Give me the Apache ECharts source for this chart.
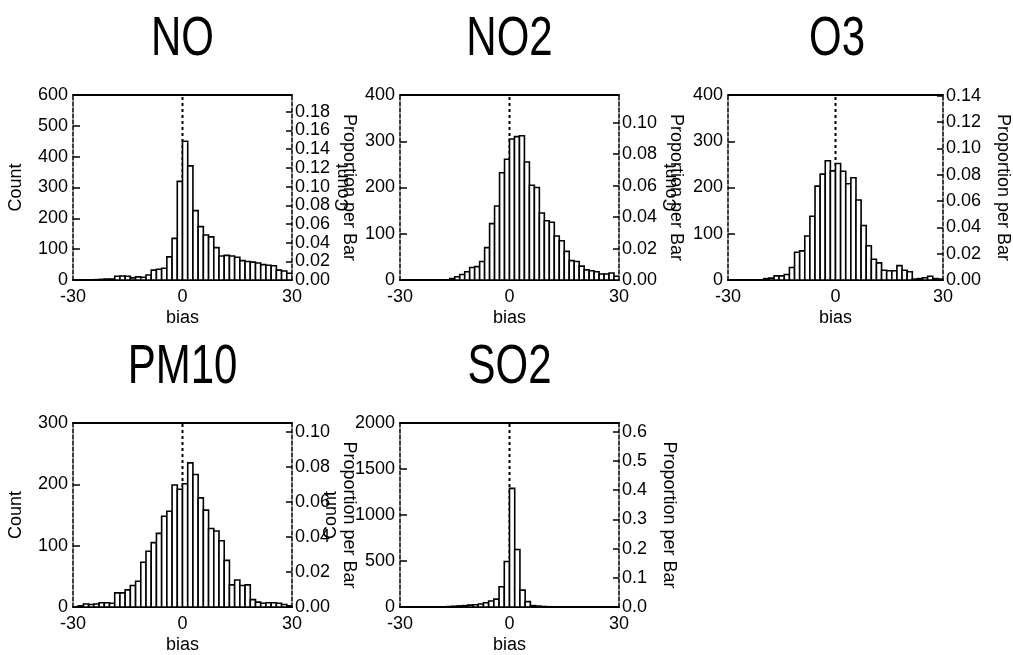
<!DOCTYPE html>
<html>
<head>
<meta charset="utf-8">
<script src="https://cdn.jsdelivr.net/npm/echarts@6/dist/echarts.min.js"></script>
<style>
html,body{margin:0;padding:0;background:#fff;}
#chart{width:1013px;height:655px;}
</style>
</head>
<body>
<div id="chart"></div>
<script>
// ---- data ----
const titles = ['NO', 'NO2', 'O3', 'PM10', 'SO2'];
const xMin = -30, xMax = 30;
const xTickStep = 30;
const countMax = [600, 400, 400, 300, 2000];
const countStep = [100, 100, 100, 100, 500];
const propMax = [0.198, 0.1176, 0.1405, 0.1049, 0.6295];
const propStep = [0.02, 0.02, 0.02, 0.02, 0.1];
const propDecimals = [2, 2, 2, 2, 1];
const binCount = [42, 44, 42, 42, 42];

const countsNO = [0,0,0,0,1,2,3,3,12,13,12,7,10,9,16,32,35,38,75,135,320,
                  450,370,225,173,146,140,105,78,80,78,74,63,60,58,55,50,48,46,32,29,22];
const countsNO2 = [0,0,0,0,0,0,0,0,0,0,3,7,12,18,27,29,40,70,122,160,232,261,
                   305,310,312,255,205,200,145,128,125,95,85,62,42,40,30,22,20,18,13,13,15,8];
const countsO3 = [0,0,0,0,0,0,0,3,4,9,9,12,27,60,63,95,138,203,229,258,236,
                  252,235,208,221,173,118,74,45,37,21,20,20,31,21,18,2,3,5,8,3,2];
const countsPM10 = [0,2,5,4,5,7,7,6,23,23,28,35,42,73,91,105,120,148,156,199,192,
                    201,235,216,178,158,128,124,108,76,36,44,35,36,12,8,6,7,7,6,4,2];
const countsSO2 = [0,0,0,0,0,0,0,0,0,5,8,12,15,20,25,32,47,65,86,220,495,
                   1289,625,183,58,15,10,5,3,0,0,0,0,0,0,0,0,0,0,0,0,0];
const allCounts = [countsNO, countsNO2, countsO3, countsPM10, countsSO2];

// ---- layout ----
const FONT = '"Liberation Sans", Arial, Helvetica, sans-serif';
const grids = [
  {left: 73, top: 95, width: 219, height: 185},
  {left: 400, top: 95, width: 219, height: 185},
  {left: 728, top: 95, width: 218, height: 185},
  {left: 73, top: 423, width: 219, height: 186},
  {left: 400, top: 423, width: 219, height: 186}
];
const leftNameGap = [48, 48, 48, 48, 60];
const rightNameGap = [48, 48, 51, 48, 41];

const chart = echarts.init(document.getElementById('chart'), null, {renderer: 'canvas'});

const option = {
  backgroundColor: '#fff',
  animation: false,
  grid: [], xAxis: [], yAxis: [], series: [], graphic: []
};

function renderBar(params, api) {
  const x0 = api.value(0), x1 = api.value(1), c = api.value(2);
  const p0 = api.coord([x0, c]);
  const p1 = api.coord([x1, 0]);
  return {
    type: 'rect',
    shape: {x: p0[0], y: p0[1], width: p1[0] - p0[0], height: p1[1] - p0[1]},
    style: {fill: '#fff', stroke: '#000', lineWidth: 1.6}
  };
}

titles.forEach((t, i) => {
  const g = grids[i];
  option.grid.push(Object.assign({containLabel: false}, g));
  // bottom x axis
  option.xAxis.push({
    type: 'value', gridIndex: i, min: xMin, max: xMax, interval: xTickStep,
    position: 'bottom',
    name: 'bias', nameLocation: 'middle', nameGap: 29,
    nameTextStyle: {fontFamily: FONT, fontSize: 18, color: '#000'},
    axisLine: {onZero: false, lineStyle: {color: '#000', width: 2}},
    axisTick: {show: false},
    axisLabel: {fontFamily: FONT, fontSize: 18, color: '#000', margin: 8},
    splitLine: {show: false}
  });
  // top x axis (frame)
  option.xAxis.push({
    type: 'value', gridIndex: i, min: xMin, max: xMax, position: 'top',
    axisLine: {onZero: false, lineStyle: {color: '#000', width: 2}},
    axisTick: {show: false}, axisLabel: {show: false}, splitLine: {show: false}
  });
  // left count axis
  option.yAxis.push({
    type: 'value', gridIndex: i, min: 0, max: countMax[i], interval: countStep[i],
    position: 'left',
    name: 'Count', nameLocation: 'middle', nameGap: leftNameGap[i],
    nameTextStyle: {fontFamily: FONT, fontSize: 18, color: '#000'},
    axisLine: {show: true, onZero: false, lineStyle: {color: '#000', width: 1.5, type: [4, 2]}},
    axisTick: {show: true, inside: true, length: 7, lineStyle: {color: '#000', width: 1.5}},
    axisLabel: {fontFamily: FONT, fontSize: 18, color: '#000', margin: 5, formatter: v => String(v)},
    splitLine: {show: false}
  });
  // right proportion axis
  const step = propStep[i], dec = propDecimals[i];
  option.yAxis.push({
    type: 'value', gridIndex: i, min: 0, max: propMax[i], interval: step,
    position: 'right',
    name: 'Proportion per Bar', nameLocation: 'middle', nameGap: rightNameGap[i], nameRotate: -90,
    nameTextStyle: {fontFamily: FONT, fontSize: 18, color: '#000'},
    axisLine: {show: true, onZero: false, lineStyle: {color: '#000', width: 1.5, type: [4, 2]}},
    axisTick: {show: true, inside: true, length: 6, lineStyle: {color: '#000', width: 1.5}},
    axisLabel: {
      fontFamily: FONT, fontSize: 18, color: '#000', margin: 3,
      formatter: v => Math.abs(v / step - Math.round(v / step)) < 1e-6 ? v.toFixed(dec) : ''
    },
    splitLine: {show: false}
  });

  const counts = allCounts[i];
  const w = (xMax - xMin) / binCount[i];
  const data = counts.map((c, k) => [xMin + k * w, xMin + (k + 1) * w, c]);
  option.series.push({
    type: 'line', xAxisIndex: 2 * i, yAxisIndex: 2 * i, z: 1,
    data: [[0, 0], [0, countMax[i]]], symbol: 'none', silent: true,
    lineStyle: {color: '#000', width: 2, type: [3, 3]}
  });
  option.series.push({
    type: 'custom', xAxisIndex: 2 * i, yAxisIndex: 2 * i, z: 3, clip: true,
    renderItem: renderBar, encode: {x: [0, 1], y: 2}, data: data
  });
  option.graphic.push({
    type: 'text', x: g.left + g.width / 2, y: g.top - 55, scaleY: 1.3,
    style: {text: t, font: '42px ' + FONT, fill: '#000', textAlign: 'center', textVerticalAlign: 'middle'}
  });
});

chart.setOption(option);
</script>
</body>
</html>
